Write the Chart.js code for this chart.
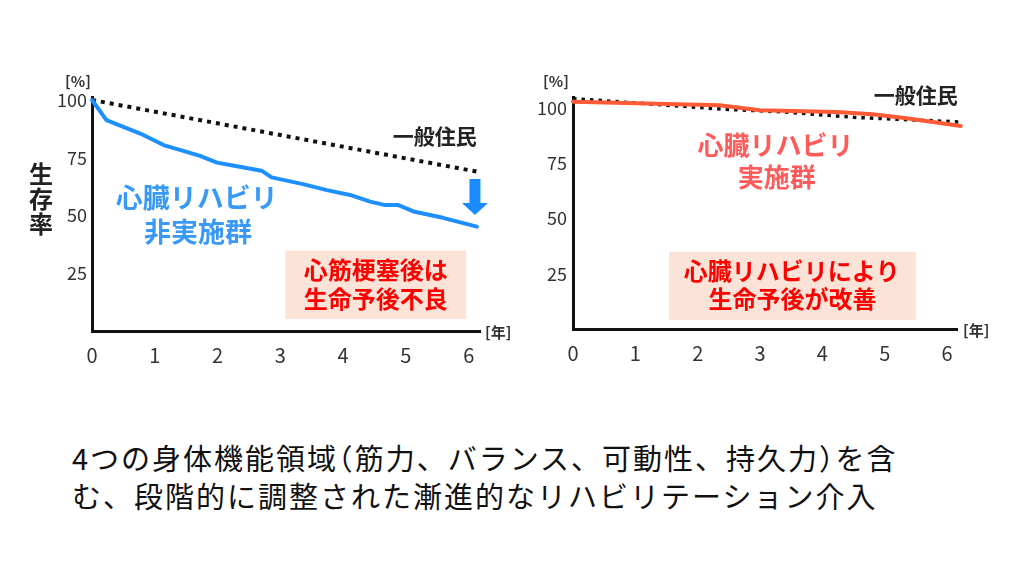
<!DOCTYPE html>
<html><head><meta charset="utf-8">
<script src="https://cdn.jsdelivr.net/npm/chart.js@4"></script>
<style>
html,body{margin:0;padding:0;background:#fff;width:1024px;height:576px;overflow:hidden;}
canvas{position:absolute;}
#c1{left:20px;top:60px;}
#c2{left:520px;top:60px;}
#ylab{position:absolute;left:28px;top:160px;width:26px;font-family:"Noto Sans CJK JP";font-weight:bold;font-size:24px;line-height:25px;color:#222;text-align:center;}
#caption{position:absolute;left:72px;top:438px;font-family:"Noto Sans CJK JP";font-size:29px;line-height:38px;letter-spacing:2px;color:#111;white-space:nowrap;}
.h{font-feature-settings:"halt";}
</style></head><body>
<canvas id="c1" width="500" height="320"></canvas>
<canvas id="c2" width="480" height="320"></canvas>
<div id="ylab">生<br>存<br>率</div>
<div id="caption">4つの身体機能領域<span class="h">（</span>筋力、バランス、可動性、持久力<span class="h">）</span>を含<br>む、段階的に調整された漸進的なリハビリテーション介入</div>
<script>
// ---- data ----
const xTicks = [0, 1, 2, 3, 4, 5, 6];
const yTicks = [25, 50, 75, 100];

// left: no cardiac rehab vs general population
const leftRehabX = [0, 0.23, 0.5, 0.76, 1.14, 1.4, 1.72, 1.99, 2.2, 2.7, 2.86, 3.36, 3.74, 4.11, 4.43, 4.67, 4.88, 5.14, 5.59, 6.13];
const leftRehabY = [100, 91.3, 88.4, 85.6, 80.5, 78.4, 75.8, 72.9, 71.9, 69.4, 66.5, 63.6, 61.0, 58.9, 56.0, 54.5, 54.5, 51.6, 49.0, 45.2];
const leftGeneralX = [0, 6.13];
const leftGeneralY = [100, 69];

// right: cardiac rehab vs general population
const rightRehabX = [0, 2.35, 3.0, 4.23, 4.81, 5.35, 6.22];
const rightRehabY = [103, 101.4, 99.1, 98.3, 97.3, 95.5, 92.0];
const rightGeneralX = [0, 2.4, 3.4, 4.5, 6.2];
const rightGeneralY = [104.4, 99.6, 98.3, 95.9, 93.8];

const FONT = '"Noto Sans CJK JP", "Noto Sans", sans-serif';
const pts = (xs, ys) => xs.map((x, i) => ({x: x, y: ys[i]}));

const annotPlugin = {
  id: 'annot',
  afterDatasetsDraw(chart, args, o) {
    const {ctx, chartArea: a} = chart;
    const sx = chart.scales.x, sy = chart.scales.y;
    ctx.save();
    (o.boxes || []).forEach(b => {
      const x0 = sx.getPixelForValue(b.x0), x1 = sx.getPixelForValue(b.x1);
      const y0 = sy.getPixelForValue(b.y0), y1 = sy.getPixelForValue(b.y1);
      ctx.fillStyle = b.fill;
      ctx.fillRect(x0, y0, x1 - x0, y1 - y0);
    });
    ctx.textAlign = 'center';
    ctx.textBaseline = 'middle';
    (o.texts || []).forEach(t => {
      ctx.font = t.font;
      ctx.fillStyle = t.color;
      ctx.fillText(t.text, sx.getPixelForValue(t.x), sy.getPixelForValue(t.y));
    });
    (o.arrows || []).forEach(r => {
      const cx = sx.getPixelForValue(r.x);
      const top = sy.getPixelForValue(r.top), mid = sy.getPixelForValue(r.mid), tip = sy.getPixelForValue(r.tip);
      ctx.fillStyle = r.color;
      ctx.beginPath();
      ctx.moveTo(cx - r.shaft / 2, top);
      ctx.lineTo(cx + r.shaft / 2, top);
      ctx.lineTo(cx + r.shaft / 2, mid);
      ctx.lineTo(cx + r.head / 2, mid);
      ctx.lineTo(cx, tip);
      ctx.lineTo(cx - r.head / 2, mid);
      ctx.lineTo(cx - r.shaft / 2, mid);
      ctx.closePath();
      ctx.fill();
    });
    ctx.font = 'bold 15px ' + FONT;
    ctx.fillStyle = '#333';
    ctx.fillText('[%]', a.left + o.pctDx, a.top + o.pctDy);
    ctx.textAlign = 'left';
    ctx.fillText('[年]', a.right + o.yearDx, a.bottom + 1);
    ctx.restore();
  }
};

function makeChart(id, c) {
  return new Chart(document.getElementById(id), {
    type: 'line',
    data: {
      datasets: [
        {data: pts(c.rx, c.ry), borderColor: c.color, borderWidth: 4, pointRadius: 0, tension: 0,
         borderJoinStyle: 'round', borderCapStyle: 'round', clip: false},
        {data: pts(c.gx, c.gy), borderColor: '#111', borderWidth: c.dotW, borderDash: c.dash, pointRadius: 0,
         tension: 0, borderCapStyle: 'butt', clip: false}
      ]
    },
    options: {
      responsive: false, animation: false,
      layout: {padding: c.pad},
      plugins: {legend: {display: false}, tooltip: {enabled: false}, annot: c.annot},
      scales: {
        x: {
          type: 'linear', min: 0, max: c.xMax,
          grid: {display: false, drawTicks: false},
          border: {display: true, color: '#111', width: 3},
          ticks: {font: {family: FONT, size: 20}, color: '#333', padding: 12, maxRotation: 0},
          afterBuildTicks: s => { s.ticks = xTicks.map(v => ({value: v})); },
          afterFit: s => { s.height = 40; }
        },
        y: {
          type: 'linear', min: 0, max: c.yMax,
          grid: {display: false, drawTicks: false},
          border: {display: true, color: '#111', width: 3},
          ticks: {font: {family: FONT, size: 18}, color: '#333', padding: c.yPad},
          afterBuildTicks: s => { s.ticks = yTicks.map(v => ({value: v})); },
          afterFit: s => { s.width = c.yW; }
        }
      }
    },
    plugins: [annotPlugin]
  });
}

const bold = (n) => 'bold ' + n + 'px ' + FONT;

makeChart('c1', {
  rx: leftRehabX, ry: leftRehabY, gx: leftGeneralX, gy: leftGeneralY,
  color: '#1e8fff', dotW: 4, dash: [4, 5],
  xMax: 6.18, yMax: 101.3, yW: 50, yPad: 5,
  pad: {left: 22, top: 37, right: 40, bottom: 9},
  annot: {
    pctDx: -14, pctDy: -16, yearDx: 5,
    boxes: [{x0: 3.08, x1: 5.96, y0: 34.8, y1: 5.2, fill: '#fbe4d7'}],
    texts: [
      {text: '一般住民', x: 5.46, y: 84.4, font: bold(21), color: '#222'},
      {text: '心臓リハビリ', x: 1.67, y: 57.6, font: bold(27), color: '#3a99f6'},
      {text: '非実施群', x: 1.69, y: 42.9, font: bold(27), color: '#3a99f6'},
      {text: '心筋梗塞後は', x: 4.52, y: 26.4, font: bold(24), color: '#ff0000'},
      {text: '生命予後不良', x: 4.52, y: 13.9, font: bold(24), color: '#ff0000'}
    ],
    arrows: [{x: 6.1, top: 65.8, mid: 55.4, tip: 50.2, shaft: 11, head: 26, color: '#1a8cff'}]
  }
});

makeChart('c2', {
  rx: rightRehabX, ry: rightRehabY, gx: rightGeneralX, gy: rightGeneralY,
  color: '#ff5a36', dotW: 3.5, dash: [3.5, 5],
  xMax: 6.16, yMax: 105.1, yW: 45, yPad: 6,
  pad: {left: 8, top: 37, right: 43, bottom: 11},
  annot: {
    pctDx: -17, pctDy: -16, yearDx: 6,
    boxes: [{x0: 1.54, x1: 5.5, y0: 35.0, y1: 4.1, fill: '#fbe4d7'}],
    texts: [
      {text: '一般住民', x: 5.5, y: 105.9, font: bold(21), color: '#222'},
      {text: '心臓リハビリ', x: 3.25, y: 83.3, font: bold(26), color: '#ff5b5b'},
      {text: '実施群', x: 3.27, y: 68.8, font: bold(26), color: '#ff5b5b'},
      {text: '心臓リハビリにより', x: 3.51, y: 26.4, font: bold(24), color: '#ff0000'},
      {text: '生命予後が改善', x: 3.52, y: 13.6, font: bold(24), color: '#ff0000'}
    ],
    arrows: []
  }
});
</script>
</body></html>
